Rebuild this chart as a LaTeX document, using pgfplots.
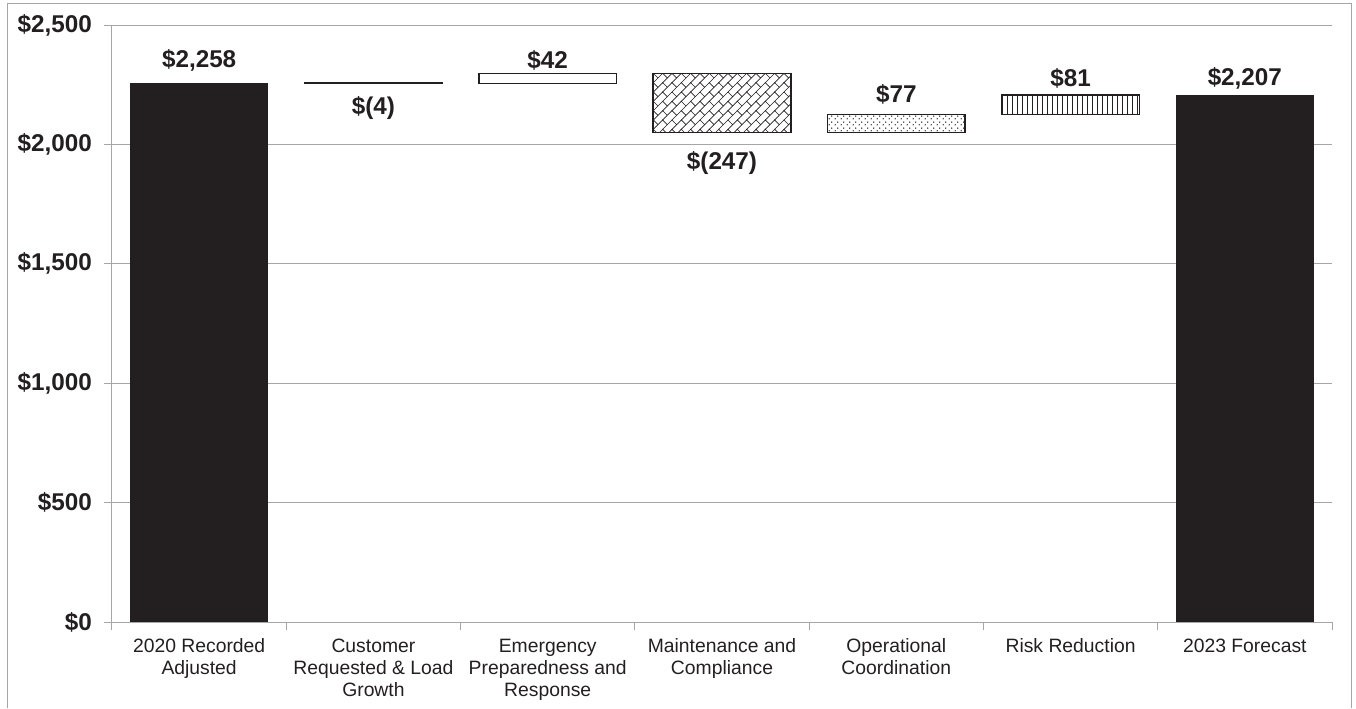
\documentclass[border=0pt]{standalone}
\usepackage{pgfplots}
\usepackage{pgfplotstable}
\pgfplotsset{compat=1.18}
\usepackage{fontspec}
\setmainfont{Liberation Sans}
\usetikzlibrary{patterns}
\definecolor{barblack}{HTML}{231F20}
\definecolor{gridgray}{HTML}{A6A6A6}
\pgfdeclarepatternformonly{vlines}{\pgfqpoint{-1pt}{-1pt}}{\pgfqpoint{4.75pt}{4.75pt}}{\pgfqpoint{3.75pt}{3.75pt}}{%
  \pgfsetlinewidth{0.9pt}%
  \pgfpathmoveto{\pgfqpoint{1.8pt}{-1pt}}%
  \pgfpathlineto{\pgfqpoint{1.8pt}{4.75pt}}%
  \pgfusepath{stroke}}
\pgfdeclarepatternformonly{sdots}{\pgfqpoint{0pt}{0pt}}{\pgfqpoint{4.5pt}{4.5pt}}{\pgfqpoint{4.5pt}{4.5pt}}{%
  \pgfpathcircle{\pgfqpoint{1pt}{1pt}}{0.6pt}%
  \pgfpathcircle{\pgfqpoint{3.25pt}{3.25pt}}{0.6pt}%
  \pgfusepath{fill}}
\pgfdeclarepatternformonly{dbrick}{\pgfqpoint{-0.5pt}{-0.5pt}}{\pgfqpoint{7.5pt}{7.5pt}}{\pgfqpoint{7pt}{7pt}}{%
  \pgfsetlinewidth{0.5pt}%
  \pgfpathmoveto{\pgfqpoint{-0.3pt}{-0.3pt}}\pgfpathlineto{\pgfqpoint{7.3pt}{7.3pt}}%
  \pgfpathmoveto{\pgfqpoint{3.5pt}{3.5pt}}\pgfpathlineto{\pgfqpoint{0pt}{7pt}}%
  \pgfusepath{stroke}}
% value labels: x, running level at the labelled bar edge, text, offset (pt)
\pgfplotstableread{
x level label shift
0 2258 {\$2{,}258} 16.5
1 2254 {\$(4)} -18
2 2296 {\$42} 9.75
3 2049 {\$(247)} -22.5
4 2126 {\$77} 14.6
5 2207 {\$81} 12.75
6 2207 {\$2{,}207} 12.75
}\labeltable
\pgfplotsset{
  commonaxis/.style={
    at={(84pt,64.5pt)}, anchor=south west,
    scale only axis, width=915pt, height=447.75pt,
    xmin=-0.5, xmax=6.5, ymin=0, ymax=2500,
  }
}
\begin{document}
\begin{tikzpicture}
\useasboundingbox (0,0) rectangle (1017pt,531pt);
\draw[gridgray, line width=0.75pt] (5.25pt,0) -- (5.25pt,528pt) -- (1013.25pt,528pt) -- (1013.25pt,0);
\begin{axis}[
  commonaxis,
  ybar stacked, stack negative=on previous, bar width=0.79,
  axis x line*=bottom, axis y line*=left,
  axis line style={gridgray, line width=0.75pt, -},
  ymajorgrids, grid style={gridgray, line width=0.75pt},
  ytick={0,500,...,2500},
  yticklabel={\$\pgfmathprintnumber{\tick}},
  /pgf/number format/1000 sep={,},
  /pgf/number format/assume math mode=true,
  yticklabel style={font=\bfseries\fontsize{18.2}{20}\selectfont, text=barblack, xshift=-5.5pt},
  tick style={gridgray, line width=0.75pt},
  tick align=outside, major tick length=6pt,
  xtick={-0.5,0.5,...,6.5},
  x tick label as interval=true,
  xticklabels={{2020 Recorded\\Adjusted},{Customer\\Requested \& Load\\Growth},{Emergency\\Preparedness and\\Response},{Maintenance and\\Compliance},{Operational\\Coordination},{Risk Reduction},{2023 Forecast}},
  xticklabel style={align=center, font=\fontsize{14.5}{16.5}\selectfont, text=barblack, yshift=-3pt},
]
% invisible base of the floating bars
\addplot[draw=none, fill=none] coordinates {(0,0) (1,2258) (2,2254) (3,2296) (4,2049) (5,2126) (6,0)};
% 2020 Recorded Adjusted
\addplot[fill=barblack, draw=none] coordinates {(0,2258) (1,0) (2,0) (3,0) (4,0) (5,0) (6,0)};
% 2023 Forecast
\addplot[fill=barblack, draw=none] coordinates {(0,0) (1,0) (2,0) (3,0) (4,0) (5,0) (6,2207)};
% Customer Requested & Load Growth
\addplot[fill=white, draw=barblack, line width=1pt] coordinates {(0,0) (1,-4) (2,0) (3,0) (4,0) (5,0) (6,0)};
% Emergency Preparedness and Response
\addplot[fill=white, draw=barblack, line width=1pt] coordinates {(0,0) (1,0) (2,42) (3,0) (4,0) (5,0) (6,0)};
% Maintenance and Compliance
\addplot[fill=white, draw=barblack, line width=1pt, postaction={pattern=dbrick, pattern color=barblack}] coordinates {(0,0) (1,0) (2,0) (3,-247) (4,0) (5,0) (6,0)};
% Operational Coordination
\addplot[fill=white, draw=barblack, line width=1pt, postaction={pattern=sdots, pattern color=barblack}] coordinates {(0,0) (1,0) (2,0) (3,0) (4,77) (5,0) (6,0)};
% Risk Reduction
\addplot[fill=white, draw=barblack, line width=1pt, postaction={pattern=vlines, pattern color=barblack}] coordinates {(0,0) (1,0) (2,0) (3,0) (4,0) (5,81) (6,0)};
\end{axis}
\begin{axis}[commonaxis, hide axis, clip=false]
\addplot[draw=none, mark=none, point meta=explicit symbolic,
  nodes near coords={\pgfplotspointmeta},
  visualization depends on={\thisrow{shift} \as \myshift},
  every node near coord/.append style={font=\bfseries\fontsize{18.2}{20}\selectfont, text=barblack, anchor=center, yshift=\myshift pt}]
  table[x=x, y=level, meta=label] {\labeltable};
\end{axis}
\end{tikzpicture}
\end{document}
